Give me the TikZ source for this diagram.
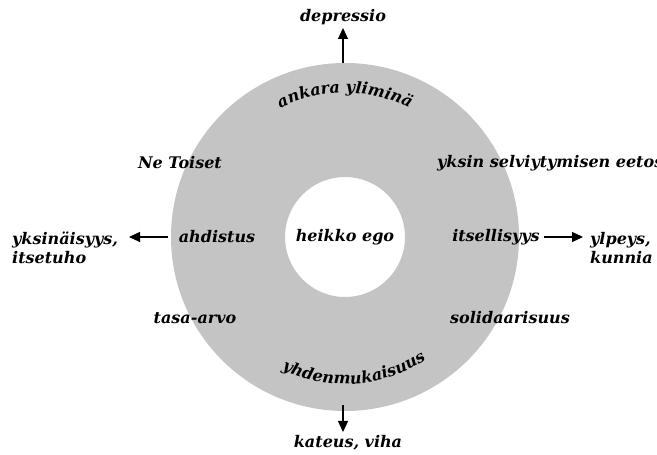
\documentclass[tikz,border=0pt]{standalone}
\usepackage{fontspec}
\setmainfont{DejaVu Serif}
\usetikzlibrary{decorations.text,arrows.meta}
\newcommand{\lbl}{\fontsize{16}{19}\selectfont\bfseries\itshape}
\tikzset{
  lab/.style={font=\lbl, inner sep=0pt},
  arr/.style={line width=1.1pt, -{Triangle[length=11pt,width=10pt]}},
}
\begin{document}
\begin{tikzpicture}[x=1pt,y=1pt]
\clip (0,0) rectangle (657,455);
\fill[white] (0,0) rectangle (657,455);
\coordinate (c) at (345,218);
\fill[black!23, even odd rule] (c) circle (174) (c) circle (60);
% curved texts
\path[decorate, decoration={text along path, text align=center,
  text={|\lbl|ankara yliminä}}] (c) ++(150:144) arc (150:30:144);
\path[decorate, decoration={text along path, text align=center,
  text={|\lbl|yhdenmukaisuus}}] (c) ++(243:147) arc (243:305:147);
% labels
\node[lab] (dep) at (343,438) {depressio};
\node[lab] (ego) at (345,218) {heikko ego};
\node[lab] (ne) at (180,292) {Ne Toiset};
\node[lab, anchor=west] (yks) at (437,292) {yksin selviytymisen eetos};
\node[lab] (ahd) at (217,218) {ahdistus};
\node[lab] (its) at (496,218) {itsellisyys};
\node[lab, anchor=west, align=left] (yksi) at (12,207) {yksinäisyys,\\itsetuho};
\node[lab, anchor=west, align=left] (ylp) at (590,207) {ylpeys,\\kunnia};
\node[lab] (tasa) at (195,137) {tasa-arvo};
\node[lab] (sol) at (510,137) {solidaarisuus};
\node[lab] (kat) at (348,12) {kateus, viha};
% arrow end points
\coordinate (topA) at (343,392);
\coordinate (topB) at (343,427);
\coordinate (botA) at (343,50);
\coordinate (botB) at (343,23);
\coordinate (la) at (168,218);
\coordinate (lb) at (129,218);
\coordinate (ra) at (544,218);
\coordinate (rb) at (583,218);
% arrows
\draw[arr] (topA) -- (topB);
\draw[arr] (botA) -- (botB);
\draw[arr] (la) -- (lb);
\draw[arr] (ra) -- (rb);
\end{tikzpicture}
\end{document}
